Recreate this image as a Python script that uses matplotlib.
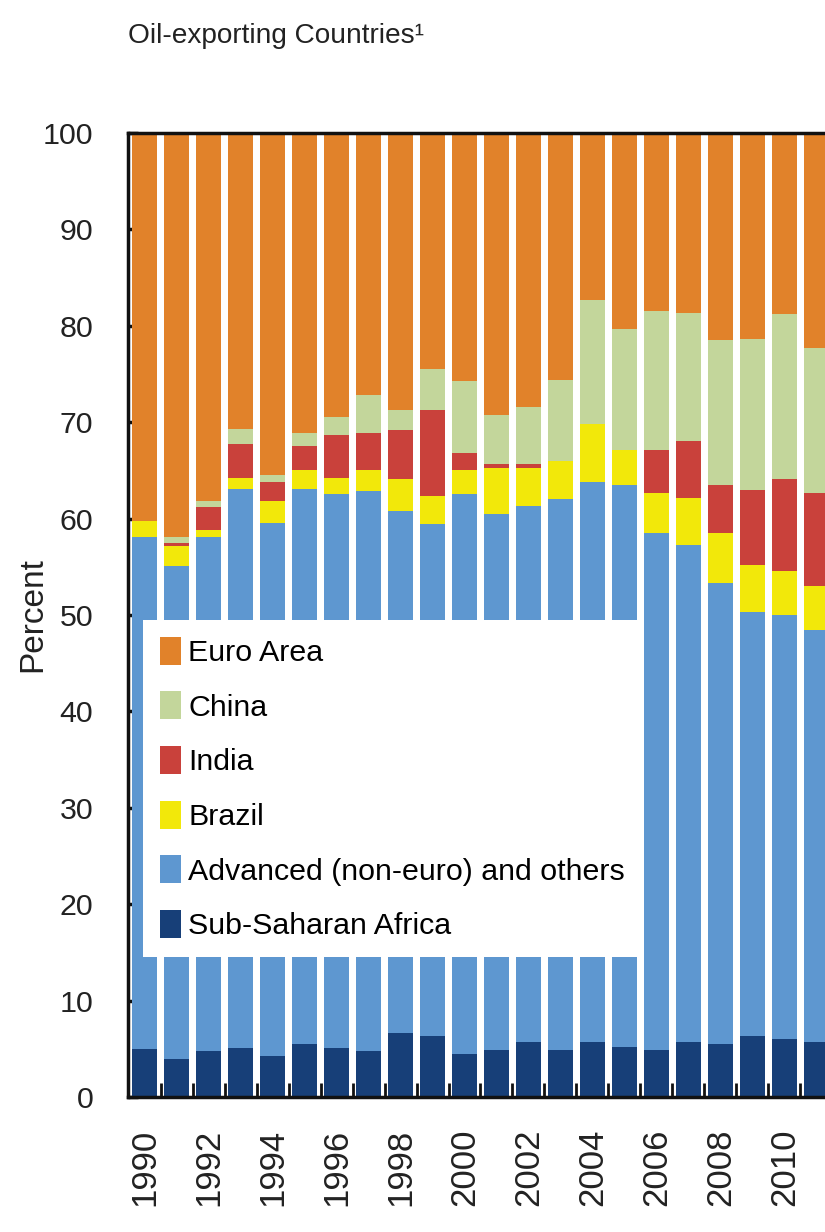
import matplotlib
matplotlib.use("Agg")
import matplotlib.pyplot as plt
from matplotlib import font_manager
import numpy as np

years = list(range(1990, 2012))

# shares of exports (percent), bottom to top
ssa      = [5.0, 3.9, 4.8, 5.1, 4.3, 5.5, 5.1, 4.8, 6.6, 6.3, 4.5, 4.9, 5.7, 4.9, 5.7, 5.2, 4.9, 5.7, 5.5, 6.3, 6.0, 5.7]
advanced = [53.1, 51.2, 53.3, 58.0, 55.2, 57.6, 57.5, 58.1, 54.2, 53.1, 58.1, 55.6, 55.6, 57.1, 58.1, 58.3, 53.6, 51.6, 47.8, 44.0, 44.0, 42.7]
brazil   = [1.6, 2.1, 0.7, 1.1, 2.3, 1.9, 1.6, 2.1, 3.3, 2.9, 2.4, 4.8, 4.0, 4.0, 6.0, 3.6, 4.2, 4.8, 5.2, 4.9, 4.6, 4.6]
india    = [0.0, 0.3, 2.4, 3.5, 2.0, 2.5, 4.5, 3.9, 5.1, 9.0, 1.8, 0.4, 0.4, 0.0, 0.0, 0.0, 4.4, 5.9, 5.0, 7.8, 9.5, 9.7]
china    = [0.0, 0.6, 0.6, 1.6, 0.7, 1.4, 1.8, 3.9, 2.1, 4.2, 7.5, 5.0, 5.9, 8.4, 12.9, 12.6, 14.4, 13.3, 15.0, 15.6, 17.1, 15.0]
euro     = [40.3, 41.9, 38.2, 30.7, 35.5, 31.1, 29.5, 27.2, 28.7, 24.5, 25.7, 29.3, 28.4, 25.6, 17.3, 20.3, 18.5, 18.7, 21.5, 21.2, 18.8, 22.4]

names = {f.name for f in font_manager.fontManager.ttflist}
if 'Liberation Sans Narrow' in names:
    narrow = ['Liberation Sans Narrow', 'DejaVu Sans']
    k = 1.0
else:
    narrow = ['Liberation Sans', 'DejaVu Sans']
    k = 0.84  # regular font is wider, shrink to keep widths
regular = ['Liberation Sans', 'DejaVu Sans']

fig = plt.figure(figsize=(8.25, 12.32), dpi=100)
ax = fig.add_axes([128/825, 1-1097/1232, 1-128/825, 964/1232])

x = np.arange(len(years))
series = [
    (ssa, 'Sub-Saharan Africa', '#173F78'),
    (advanced, 'Advanced (non-euro) and others', '#5E97D0'),
    (brazil, 'Brazil', '#F2E80A'),
    (india, 'India', '#C9413B'),
    (china, 'China', '#C3D69B'),
    (euro, 'Euro Area', '#E1822A'),
]
bottom = np.zeros(len(years))
handles = {}
for vals, name, col in series:
    b = ax.bar(x, vals, width=0.8, bottom=bottom, color=col, label=name, zorder=2)
    handles[name] = b
    bottom += np.array(vals)

ax.set_ylim(0, 100)
ax.set_xlim(-0.52, 21.27)
ax.set_yticks(range(0, 101, 10))
ax.set_yticklabels([str(v) for v in range(0, 101, 10)], family=narrow, fontsize=26*k, color='#222222')
ax.tick_params(axis='y', direction='in', length=7, width=2.5, pad=25, color='#111111')

ax.set_xticks(x[::2])
ax.set_xticklabels([str(y) for y in years[::2]], rotation=90, family=regular, fontsize=25, color='#222222')
ax.set_xticks(x[:-1] + 0.5, minor=True)
ax.tick_params(axis='x', which='major', length=0, pad=23)
ax.tick_params(axis='x', which='minor', direction='in', length=10, width=2, color='#111111')

for s in ['left', 'top', 'bottom']:
    ax.spines[s].set_linewidth(2.5)
    ax.spines[s].set_color('#111111')
ax.spines['right'].set_visible(False)

ax.set_ylabel('Percent', family=regular, fontsize=24, color='#222222')
ax.yaxis.set_label_coords(-0.115, 0.5)

order = ['Euro Area', 'China', 'India', 'Brazil', 'Advanced (non-euro) and others', 'Sub-Saharan Africa']
fs = 26*k
leg = ax.legend([handles[n] for n in order], order, loc='upper left',
                bbox_to_anchor=(0.0215, 0.495), borderaxespad=0,
                prop={'family': narrow, 'size': fs},
                handlelength=0.7, handleheight=1.05, handletextpad=0.25,
                labelspacing=0.8, borderpad=0.55,
                frameon=True, fancybox=False, framealpha=1, edgecolor='white')
leg.get_frame().set_linewidth(0)
leg.set_zorder(5)

fig.text(128/825, 1-43/1232, 'Oil-exporting Countries\u00b9', family=narrow, fontsize=24*k,
         color='#222222', ha='left', va='baseline')

fig.savefig('out.png', dpi=100)
